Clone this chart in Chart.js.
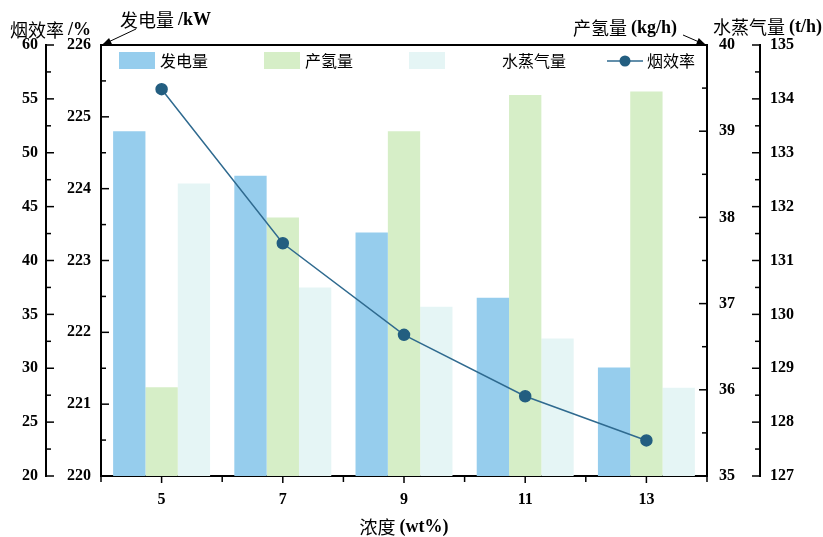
<!DOCTYPE html>
<html>
<head>
<meta charset="utf-8">
<script src="https://cdn.jsdelivr.net/npm/chart.js@4.4.0/dist/chart.umd.min.js"></script>
<style>
html, body { margin: 0; padding: 0; background: #fff; }
#wrap { width: 823px; height: 537px; }
</style>
</head>
<body>
<div id="wrap"><canvas id="chart" width="823" height="537"></canvas></div>
<script>
const categories = ["5", "7", "9", "11", "13"];
const powerKW = [224.80, 224.18, 223.39, 222.48, 221.51];
const hydrogen = [36.03, 38.00, 39.00, 39.42, 39.46];
const steam = [132.43, 130.50, 130.14, 129.55, 128.64];
const exergy = [55.9, 41.6, 33.1, 27.4, 23.3];

const cjk = "'Noto Sans CJK SC'";
const serif = "'Liberation Serif', 'Times New Roman', serif";
const tickFont = { family: serif, size: 16, weight: "bold" };

function yAxis(pos, weight, min, max, step, width, pad) {
    return {
        type: "linear",
        position: pos,
        weight: weight,
        min: min,
        max: max,
        ticks: { stepSize: step, padding: pad, color: "#000", font: tickFont },
        grid: { display: false, drawTicks: false },
        border: { display: true, color: "#000", width: 2 },
        afterFit: (s) => { s.width = width; }
    };
}

// draws text made of chinese + latin parts
function mixedText(ctx, parts, x, y, align) {
    let total = 0;
    parts.forEach(p => { ctx.font = p[1]; total += ctx.measureText(p[0]).width; });
    let cx = align === "center" ? x - total / 2 : x;
    ctx.textBaseline = "middle";
    ctx.textAlign = "left";
    parts.forEach(p => {
        ctx.font = p[1];
        ctx.fillText(p[0], cx, y);
        cx += ctx.measureText(p[0]).width;
    });
}

function arrow(ctx, x1, y1, x2, y2) {
    ctx.beginPath();
    ctx.moveTo(x1, y1);
    ctx.lineTo(x2, y2);
    ctx.lineWidth = 1;
    ctx.stroke();
    const ang = Math.atan2(y2 - y1, x2 - x1);
    ctx.beginPath();
    ctx.moveTo(x2, y2);
    ctx.lineTo(x2 - 10 * Math.cos(ang - 0.35), y2 - 10 * Math.sin(ang - 0.35));
    ctx.lineTo(x2 - 10 * Math.cos(ang + 0.35), y2 - 10 * Math.sin(ang + 0.35));
    ctx.closePath();
    ctx.fill();
}

function yTicks(ctx, scale, dir) {
    const x0 = dir > 0 ? scale.right : scale.left;
    const vals = scale.ticks.map(t => t.value);
    vals.forEach((v, i) => {
        const y = scale.getPixelForValue(v);
        ctx.beginPath(); ctx.moveTo(x0, y); ctx.lineTo(x0 + dir * 8, y); ctx.stroke();
        if (i < vals.length - 1) {
            const ym = scale.getPixelForValue((v + vals[i + 1]) / 2);
            ctx.beginPath(); ctx.moveTo(x0, ym); ctx.lineTo(x0 + dir * 5, ym); ctx.stroke();
        }
    });
}

const decor = {
    id: "decor",
    afterDraw(chart) {
        const ctx = chart.ctx;
        const a = chart.chartArea;
        const s = chart.scales;
        ctx.save();
        ctx.strokeStyle = "#000";
        ctx.fillStyle = "#000";

        // top frame line
        ctx.lineWidth = 2;
        ctx.beginPath(); ctx.moveTo(a.left - 1, a.top); ctx.lineTo(a.right + 1, a.top); ctx.stroke();

        ctx.lineWidth = 1.5;
        yTicks(ctx, s.yE, 1);
        yTicks(ctx, s.yP, 1);
        yTicks(ctx, s.yH, -1);
        yTicks(ctx, s.yS, -1);

        // x ticks: centres and boundaries
        const step = s.x.getPixelForValue(1) - s.x.getPixelForValue(0);
        categories.forEach((c, i) => {
            const px = s.x.getPixelForValue(i);
            ctx.beginPath(); ctx.moveTo(px, a.bottom); ctx.lineTo(px, a.bottom + 7); ctx.stroke();
            ctx.beginPath(); ctx.moveTo(px - step / 2, a.bottom); ctx.lineTo(px - step / 2, a.bottom + 6); ctx.stroke();
            if (i === categories.length - 1) {
                ctx.beginPath(); ctx.moveTo(px + step / 2, a.bottom); ctx.lineTo(px + step / 2, a.bottom + 6); ctx.stroke();
            }
        });

        // axis titles
        const cn = "18px " + cjk;
        const lat = "bold 18px " + serif;
        mixedText(ctx, [["烟效率 ", cn], ["/%", lat]], 10, 30);
        mixedText(ctx, [["发电量 ", cn], ["/kW", lat]], 120, 20);
        mixedText(ctx, [["产氢量 ", cn], ["(kg/h)", lat]], 573, 28);
        mixedText(ctx, [["水蒸气量 ", cn], ["(t/h)", lat]], 713, 27);
        mixedText(ctx, [["浓度 ", cn], ["(wt%)", lat]], (a.left + a.right) / 2, 527, "center");

        arrow(ctx, 136, 29, a.left + 1, a.top);
        arrow(ctx, 683, 35, a.right - 1, a.top);

        // legend
        const ds = chart.data.datasets;
        const lf = "16px " + cjk;
        ctx.font = lf;
        ctx.textBaseline = "middle";
        ctx.textAlign = "left";
        const boxes = [[ds[1], 119, 160], [ds[2], 264, 305], [ds[3], 409, 502]];
        boxes.forEach(b => {
            ctx.fillStyle = b[0].backgroundColor;
            ctx.fillRect(b[1], 52, 36, 17);
            ctx.fillStyle = "#000";
            ctx.fillText(b[0].label, b[2], 61);
        });
        ctx.strokeStyle = ds[0].borderColor;
        ctx.lineWidth = 1.5;
        ctx.beginPath(); ctx.moveTo(607, 61); ctx.lineTo(643, 61); ctx.stroke();
        ctx.fillStyle = ds[0].pointBackgroundColor;
        ctx.beginPath(); ctx.arc(625, 61, 5.5, 0, Math.PI * 2); ctx.fill();
        ctx.fillStyle = "#000";
        ctx.fillText(ds[0].label, 647, 61);
        ctx.restore();
    }
};

new Chart(document.getElementById("chart"), {
    data: {
        labels: categories,
        datasets: [
            {
                type: "line",
                label: "烟效率",
                data: exergy,
                yAxisID: "yE",
                borderColor: "#2f6a8f",
                borderWidth: 1.5,
                pointBackgroundColor: "#235e80",
                pointBorderColor: "#235e80",
                pointRadius: 5.5,
                tension: 0
            },
            {
                type: "bar",
                label: "发电量",
                data: powerKW,
                yAxisID: "yP",
                backgroundColor: "#96cded",
                categoryPercentage: 0.8,
                barPercentage: 1.0
            },
            {
                type: "bar",
                label: "产氢量",
                data: hydrogen,
                yAxisID: "yH",
                backgroundColor: "#d6eec7",
                categoryPercentage: 0.8,
                barPercentage: 1.0
            },
            {
                type: "bar",
                label: "水蒸气量",
                data: steam,
                yAxisID: "yS",
                backgroundColor: "#e5f5f5",
                categoryPercentage: 0.8,
                barPercentage: 1.0
            }
        ]
    },
    options: {
        responsive: false,
        animation: false,
        layout: { padding: { top: 45, left: 0, right: 0, bottom: 0 } },
        plugins: { legend: { display: false }, tooltip: { enabled: false } },
        scales: {
            x: {
                type: "category",
                offset: true,
                ticks: { padding: 14, color: "#000", font: tickFont },
                grid: { display: false, drawTicks: false },
                border: { display: true, color: "#000", width: 2 },
                afterFit: (s) => { s.height = 61; }
            },
            yE: yAxis("left", 2, 20, 60, 5, 46, 8),
            yP: yAxis("left", 1, 220, 226, 1, 55, 10),
            yH: yAxis("right", 1, 35, 40, 1, 53, 12),
            yS: yAxis("right", 2, 127, 135, 1, 63, 10)
        }
    },
    plugins: [decor]
});
</script>
</body>
</html>
